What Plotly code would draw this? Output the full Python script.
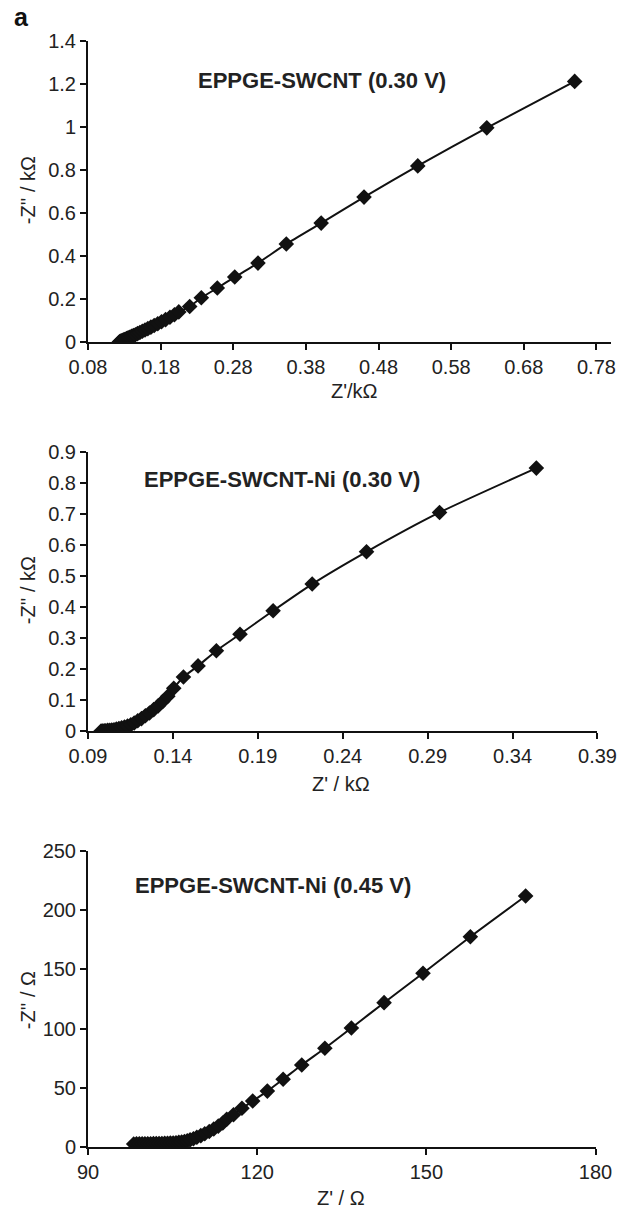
import plotly.graph_objects as go

# ---------------- data ----------------
# Panel 1: EPPGE-SWCNT (0.30 V), kOhm
p1_x = [0.1230, 0.1240, 0.1252, 0.1265, 0.1280, 0.1296, 0.1313, 0.1332, 0.1352, 0.1374,
        0.1398, 0.1424, 0.1452, 0.1482, 0.1514, 0.1548, 0.1585, 0.1624, 0.1666, 0.1711,
        0.1760, 0.1812, 0.1868, 0.1928, 0.1990,
        0.2050, 0.2200, 0.2360, 0.2580, 0.2820, 0.3140, 0.3530, 0.4010, 0.4600, 0.5340,
        0.6290, 0.7500]
p1_y = [0.000, 0.002, 0.004, 0.006, 0.008, 0.011, 0.013, 0.016, 0.019, 0.022,
        0.026, 0.030, 0.034, 0.039, 0.044, 0.050, 0.056, 0.062, 0.069, 0.077,
        0.085, 0.094, 0.104, 0.115, 0.127,
        0.140, 0.165, 0.206, 0.251, 0.302, 0.367, 0.456, 0.553, 0.674, 0.819,
        0.996, 1.212]

# Panel 2: EPPGE-SWCNT-Ni (0.30 V), kOhm
p2_x = [0.0977, 0.0985, 0.0995, 0.1005, 0.1016, 0.1028, 0.1040, 0.1053, 0.1067, 0.1082,
        0.1098, 0.1115, 0.1133, 0.1152, 0.1172, 0.1193, 0.1215, 0.1238, 0.1262, 0.1287,
        0.1313, 0.1340, 0.1370,
        0.1405, 0.1462, 0.1548, 0.1656, 0.1795, 0.1990, 0.2220, 0.2540, 0.2970, 0.3540]
p2_y = [0.000, 0.000, 0.001, 0.001, 0.002, 0.002, 0.003, 0.004, 0.006, 0.008,
        0.010, 0.013, 0.016, 0.020, 0.026, 0.033, 0.040, 0.049, 0.058, 0.069,
        0.081, 0.095, 0.112,
        0.138, 0.174, 0.210, 0.259, 0.312, 0.388, 0.474, 0.578, 0.705, 0.848]

# Panel 3: EPPGE-SWCNT-Ni (0.45 V), Ohm
p3_x = [98.1, 98.6, 99.1, 99.6, 100.1, 100.6, 101.1, 101.6, 102.1, 102.6,
        103.1, 103.6, 104.1, 104.6, 105.1, 105.6, 106.1, 106.6, 107.1, 107.6,
        108.1, 108.7, 109.3, 110.0, 110.7, 111.5, 112.3, 113.1, 113.9, 114.6,
        115.8, 117.3, 119.2, 121.8, 124.6, 127.9, 132.0, 136.7, 142.5, 149.4,
        157.8, 167.6]
p3_y = [2.5, 2.6, 2.6, 2.7, 2.7, 2.8, 2.8, 2.9, 2.9, 3.0,
        3.0, 3.1, 3.2, 3.3, 3.4, 3.6, 3.9, 4.2, 4.7, 5.3,
        6.0, 7.0, 8.2, 9.6, 11.2, 13.1, 15.2, 17.6, 20.3, 23.4,
        27.3, 32.7, 38.8, 47.2, 57.2, 69.3, 83.4, 100.5, 121.9, 146.7,
        177.6, 212.0]

# tick labels
p1_xticks = [0.08, 0.18, 0.28, 0.38, 0.48, 0.58, 0.68, 0.78]
p1_yticks = [0, 0.2, 0.4, 0.6, 0.8, 1, 1.2, 1.4]
p2_xticks = [0.09, 0.14, 0.19, 0.24, 0.29, 0.34, 0.39]
p2_yticks = [0, 0.1, 0.2, 0.3, 0.4, 0.5, 0.6, 0.7, 0.8, 0.9]
p3_xticks = [90, 120, 150, 180]
p3_yticks = [0, 50, 100, 150, 200, 250]

titles = ["EPPGE-SWCNT (0.30 V)", "EPPGE-SWCNT-Ni (0.30 V)", "EPPGE-SWCNT-Ni (0.45 V)"]
xtitles = ["Z'/kΩ", "Z' / kΩ", "Z' / Ω"]
ytitles = ["-Z'' / kΩ", "-Z'' / kΩ", "-Z'' / Ω"]

# ---------------- layout helpers ----------------
W, H = 638, 1220
L, R, T, B = 88, 8, 41, 73
PW = W - L - R
PH = H - T - B


def px(xp):
    return (xp - L) / PW


def py(yp):
    return (H - B - yp) / PH


FONT = "Liberation Sans, Arial, Helvetica, sans-serif"
TICKSIZE = 20

fig = go.Figure()

series = [(p1_x, p1_y, "x", "y"), (p2_x, p2_y, "x2", "y2"), (p3_x, p3_y, "x3", "y3")]
for xs, ys, xa, ya in series:
    fig.add_trace(go.Scatter(
        x=xs, y=ys, xaxis=xa, yaxis=ya, mode="lines+markers",
        line=dict(color="#111111", width=2, shape="spline", smoothing=0.6),
        marker=dict(symbol="diamond", size=12, color="#111111", line=dict(width=0)),
        showlegend=False, hoverinfo="x+y"))

axis_common = dict(showline=True, linecolor="#111111", linewidth=2,
                   ticks="outside", ticklen=6, tickwidth=1.8, tickcolor="#111111",
                   showgrid=False, zeroline=False,
                   tickfont=dict(family=FONT, size=TICKSIZE, color="#222"))

# plot-area pixel boxes: (x_left, x_right, y_top, y_bottom)
boxes = [(88, 630, 41, 342), (88, 616, 452, 731), (88, 614, 851, 1147)]
xranges = [[0.08, 0.80], [0.09, 0.39], [90, 180]]
yranges = [[0, 1.4], [0, 0.9], [0, 250]]
xticks = [p1_xticks, p2_xticks, p3_xticks]
yticks = [p1_yticks, p2_yticks, p3_yticks]

layout = {}
for i in range(3):
    xl, xr, yt, yb = boxes[i]
    xk = "xaxis" if i == 0 else f"xaxis{i+1}"
    yk = "yaxis" if i == 0 else f"yaxis{i+1}"
    ya_name = "y" if i == 0 else f"y{i+1}"
    xa_name = "x" if i == 0 else f"x{i+1}"
    layout[xk] = dict(axis_common, domain=[px(xl), px(xr)], range=xranges[i],
                      tickvals=xticks[i], ticktext=[f"{v:g}" for v in xticks[i]],
                      anchor=ya_name)
    layout[yk] = dict(axis_common, domain=[py(yb), py(yt)], range=yranges[i],
                      tickvals=yticks[i], ticktext=[f"{v:g}" for v in yticks[i]],
                      anchor=xa_name)

fig.update_layout(**layout)

# annotations: panel titles, axis titles, panel letter
title_pos = [(331, 80), (289, 480), (280, 885)]
xtitle_pos = [(364, 391), (350, 784), (350, 1198)]
ytitle_pos = [(26, 190), (26, 590), (26, 1000)]

annotations = []
for i in range(3):
    annotations.append(dict(text=f"<b>{titles[i]}</b>", x=px(title_pos[i][0]), y=py(title_pos[i][1]),
                            xref="paper", yref="paper", showarrow=False,
                            xanchor="center", yanchor="middle",
                            font=dict(family=FONT, size=22, color="#222")))
    annotations.append(dict(text=xtitles[i], x=px(xtitle_pos[i][0]), y=py(xtitle_pos[i][1]),
                            xref="paper", yref="paper", showarrow=False,
                            xanchor="center", yanchor="middle",
                            font=dict(family=FONT, size=TICKSIZE, color="#222")))
    annotations.append(dict(text=ytitles[i], x=px(ytitle_pos[i][0]), y=py(ytitle_pos[i][1]),
                            xref="paper", yref="paper", showarrow=False, textangle=-90,
                            xanchor="center", yanchor="middle",
                            font=dict(family=FONT, size=TICKSIZE, color="#222")))
annotations.append(dict(text="<b>a</b>", x=px(19), y=py(17), xref="paper", yref="paper",
                        showarrow=False, xanchor="center", yanchor="middle",
                        font=dict(family=FONT, size=25, color="#111")))

fig.update_layout(
    width=W, height=H,
    margin=dict(l=L, r=R, t=T, b=B, pad=0),
    paper_bgcolor="white", plot_bgcolor="white",
    annotations=annotations,
    showlegend=False,
)

fig.write_html("out.html")
